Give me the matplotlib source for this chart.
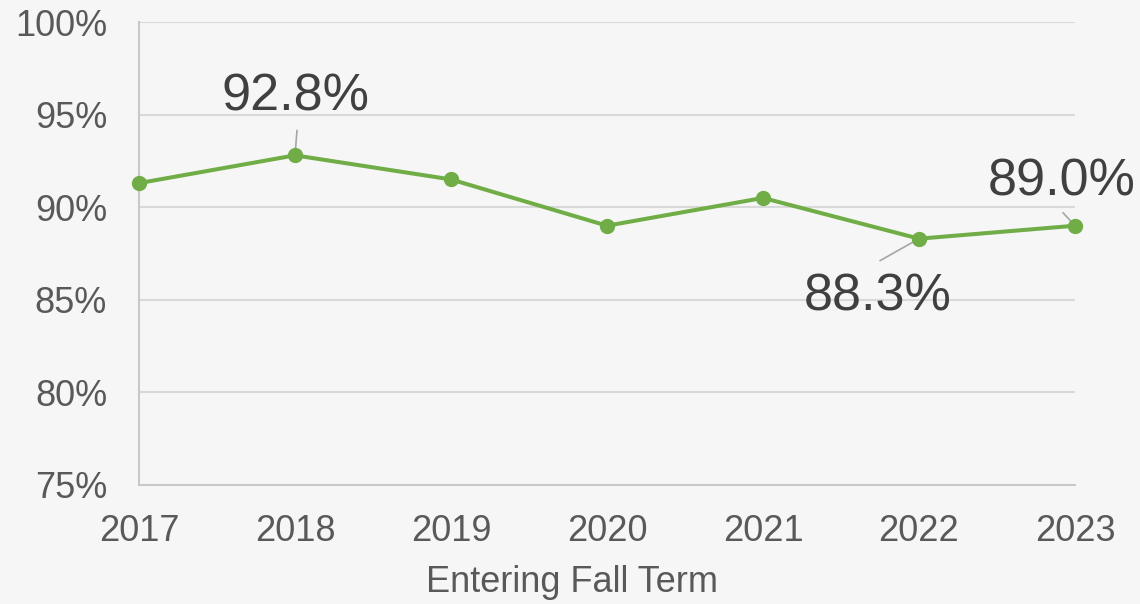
import matplotlib
matplotlib.use("Agg")
import matplotlib.pyplot as plt

years = ["2017", "2018", "2019", "2020", "2021", "2022", "2023"]
rates = [91.3, 92.8, 91.5, 89.0, 90.5, 88.3, 89.0]
y_ticks = [75, 80, 85, 90, 95, 100]
x_label = "Entering Fall Term"

# label annotations: (index, text dx px, text dy px, leader dx px, leader dy px)
labels = [(1, 1, 58, 2, 25), (5, -41, -58, -39, -22), (6, -13, 44, -12, 13)]

plt.rcParams['font.family'] = ['Liberation Sans', 'DejaVu Sans']
bg = "#f6f6f6"
fig = plt.figure(figsize=(11.4, 6.04), dpi=100, facecolor=bg)
ax = fig.add_axes([139/1140, 1-485/604, (1075-139)/1140, (485-22)/604])
ax.set_facecolor(bg)

x = list(range(len(years)))
ax.plot(x, rates, color="#70ad47", lw=2.9, marker="o", ms=10, clip_on=False, zorder=3)

ax.set_xlim(0, len(years)-1)
ax.set_ylim(75, 100)
ax.set_yticks(y_ticks)
ax.set_yticklabels([f"{v}%" for v in y_ticks])
ax.set_xticks(x)
ax.set_xticklabels(years)
ax.tick_params(axis='both', length=0, labelsize=26, labelcolor="#595959")
ax.tick_params(axis='x', pad=21)
ax.tick_params(axis='y', pad=23)
ax.yaxis.grid(True, color="#d9d9d9", lw=1.5)
ax.set_axisbelow(True)
for s in ["top", "right"]:
    ax.spines[s].set_visible(False)
for s in ["left", "bottom"]:
    ax.spines[s].set_color("#c8c8c8")
    ax.spines[s].set_linewidth(1.5)
ax.set_xlabel(x_label, fontsize=26, color="#595959")
ax.xaxis.set_label_coords(0.4626, -0.172)

for i, dx, dy, lx, ly in labels:
    ax.annotate(f"{rates[i]:.1f}%", xy=(x[i], rates[i]), xytext=(dx, dy),
                textcoords="offset pixels", ha="center", va="center",
                fontsize=37.5, color="#404040", annotation_clip=False)
    ax.annotate("", xy=(x[i], rates[i]), xytext=(lx, ly),
                textcoords="offset pixels", annotation_clip=False,
                arrowprops=dict(arrowstyle="-", color="#a6a6a6", lw=1.2,
                                shrinkA=0, shrinkB=0), zorder=2)

fig.savefig("out.png", dpi=100, facecolor=bg)
